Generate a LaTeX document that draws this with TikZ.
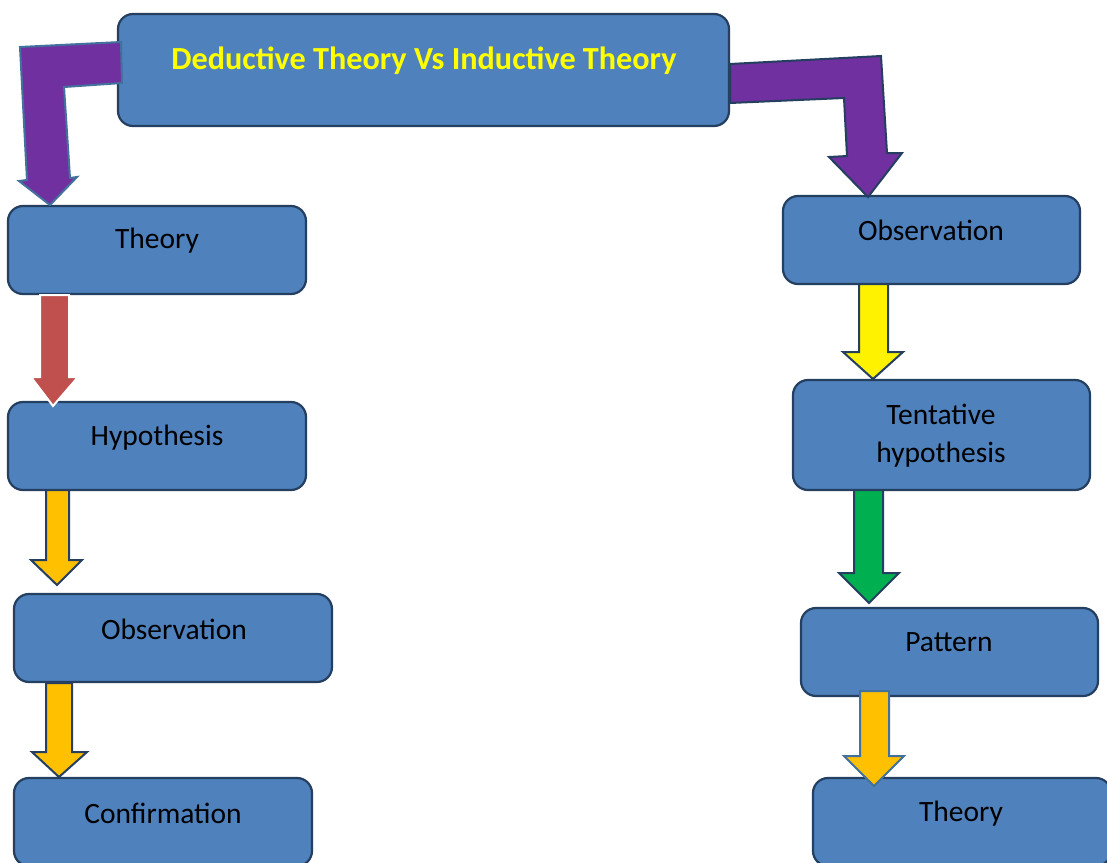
\documentclass[tikz,border=0pt]{standalone}
\usepackage{fontspec}
\setmainfont{Carlito}
\begin{document}
\begin{tikzpicture}[x=1pt,y=-1pt]
\definecolor{boxfill}{HTML}{4F81BD}
\definecolor{boxline}{HTML}{243F60}
\definecolor{steel}{HTML}{41719C}
\definecolor{purp}{HTML}{7030A0}
\definecolor{redarrow}{HTML}{C0504D}
\definecolor{amber}{HTML}{FFC000}
\definecolor{greenarrow}{HTML}{00B050}
\tikzset{
  box/.style={draw=boxline, line width=2.2pt, fill=boxfill, rounded corners=15pt,
    minimum width=298pt, minimum height=88pt, inner sep=0pt},
  lbl/.style={font=\fontsize{29.5}{34}\selectfont, text=black, align=center, inner sep=0pt},
  blockarrow/.style={line width=2pt, line join=miter},
}
\clip (0,0) rectangle (1107,862);
\fill[white] (0,0) rectangle (1107,862);

% title box
\node[box, minimum width=611pt, minimum height=112pt] (title) at (423.5,70) {};
\node[font=\bfseries\fontsize{32.2}{37}\selectfont, text={rgb,255:red,255;green,255;blue,0}, inner sep=0pt]
  (titletext) at (424,61) {Deductive Theory Vs Inductive Theory};

% deductive column
\node[box] (dtheory) at (157,250) {};
\node[lbl] (dtheoryt) at (157,241) {Theory};
\node[box] (dhyp) at (157,446) {};
\node[lbl] (dhypt) at (157,438) {Hypothesis};
\node[box, minimum width=318pt] (dobs) at (173,638) {};
\node[lbl] (dobst) at (174,629) {Observation};
\node[box] (dconf) at (163,822) {};
\node[lbl] (dconft) at (163,813) {Confirmation};

% inductive column
\node[box, minimum width=297pt] (iobs) at (931.5,240) {};
\node[lbl] (iobst) at (931,230) {Observation};
\node[box, minimum width=297pt, minimum height=110pt] (ihyp) at (941.5,435) {};
\node[lbl, font=\fontsize{29.5}{38}\selectfont] (ihypt) at (941,436) {Tentative\\hypothesis};
\node[box, minimum width=297pt] (ipat) at (949.5,652) {};
\node[lbl] (ipatt) at (949,642) {Pattern};
\node[box] (itheory) at (962,822) {};
\node[lbl] (itheoryt) at (961,814) {Theory};

% bent arrows out of the title box
\draw[blockarrow, fill=purp, draw=steel]
  (121,42) -- (20,47) -- (27,180) -- (19,181) -- (50,205) -- (77,177)
  -- (70,178) -- (64,87) -- (122,83) -- cycle;
\draw[blockarrow, fill=purp, draw=boxline]
  (730,64) -- (881,56) -- (887,153) -- (902,153) -- (868,197) -- (829,157)
  -- (847,156) -- (844,98) -- (730,103) -- cycle;

% deductive chain
\draw[blockarrow, fill=redarrow, draw=white]
  (40,295) -- (69,295) -- (69,377) -- (78,377) -- (53,406) -- (31,377) -- (40,377) -- cycle;
\draw[blockarrow, fill=amber, draw=boxline]
  (46,490) -- (69,490) -- (69,560) -- (82,560) -- (57,585) -- (31,560) -- (46,560) -- cycle;
\draw[blockarrow, fill=amber, draw=boxline]
  (46,683) -- (72,683) -- (72,752) -- (87,752) -- (59,777) -- (32,752) -- (46,752) -- cycle;

% inductive chain
\draw[blockarrow, fill=yellow, draw=boxline]
  (859,284) -- (888,284) -- (888,352) -- (903,352) -- (873,379) -- (843,352) -- (859,352) -- cycle;
\draw[blockarrow, fill=greenarrow, draw=boxline]
  (854,490) -- (883,490) -- (883,573) -- (899,573) -- (869,603) -- (839,573) -- (854,573) -- cycle;
\draw[blockarrow, fill=amber, draw=steel]
  (860,691) -- (889,691) -- (889,756) -- (904,756) -- (874,786) -- (844,756) -- (860,756) -- cycle;
\end{tikzpicture}
\end{document}
